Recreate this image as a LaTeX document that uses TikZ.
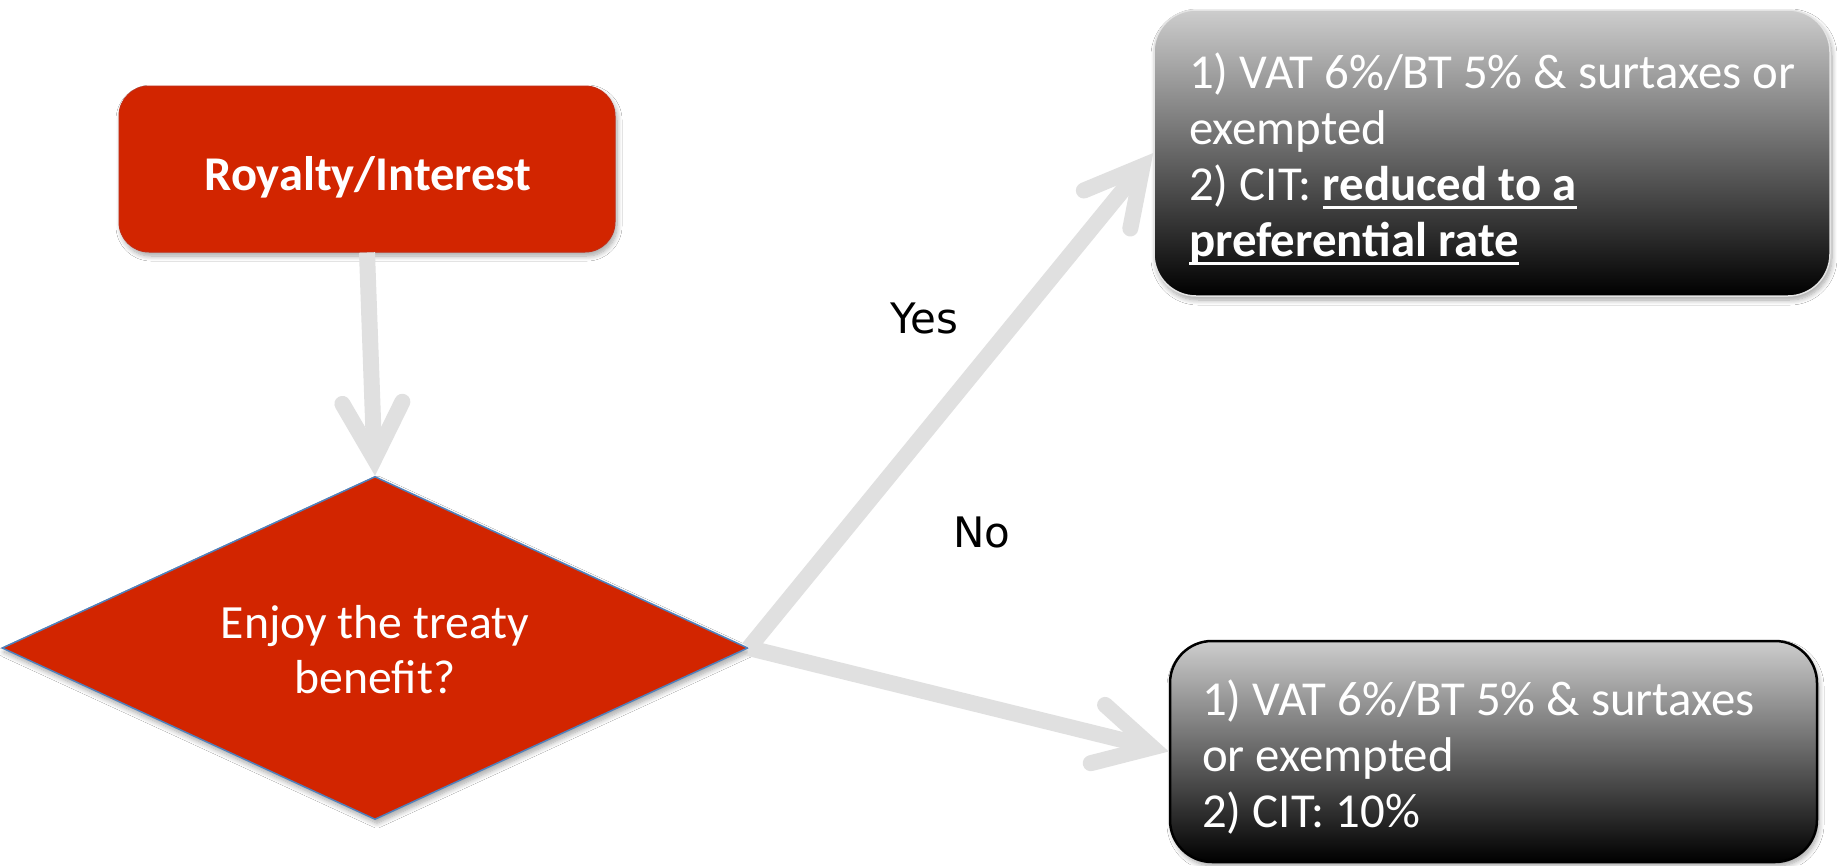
\documentclass[tikz,border=0pt]{standalone}
\usepackage{fontspec}
\newfontfamily\calibri{Carlito}
\newfontfamily\lucida{DejaVu Sans}
\usetikzlibrary{arrows.meta,shapes.geometric,shadows.blur}

\definecolor{ored}{RGB}{210,37,0}
\definecolor{oredline}{RGB}{196,44,20}
\definecolor{agray}{RGB}{224,224,224}
\definecolor{dblue}{RGB}{79,129,189}
\definecolor{boxtop}{RGB}{205,205,205}
\definecolor{boxmid}{RGB}{120,120,120}
\definecolor{boxline}{RGB}{228,228,228}

% left-aligned and centred stacks of lines, baseline on the first line
\newcommand\leftlines[1]{\vtop{\halign{##\hfil\cr#1\crcr}}}
\newcommand\ctrlines[1]{\vtop{\halign{\hfil##\hfil\cr#1\crcr}}}
% underline with a rule scaled to the large text
\newcommand\undl[1]{\leavevmode\setbox0\hbox{#1}\rlap{\rule[-9pt]{\wd0}{2.6pt}}\box0}

\tikzset{
  softshadow/.style={blur shadow={shadow xshift=2pt, shadow yshift=-4pt,
      shadow blur radius=5pt, shadow blur steps=8, shadow opacity=35}},
  redbox/.style={rectangle, rounded corners=30pt, fill=ored, draw=oredline,
      line width=1pt, minimum width=496pt, minimum height=166pt, softshadow},
  decision/.style={diamond, fill=ored, draw=dblue, line width=1.5pt,
      minimum width=746pt, minimum height=343pt, shape aspect=2.17,
      inner sep=0pt, softshadow},
  darkbox/.style={rectangle, rounded corners=42pt, top color=boxtop,
      middle color=boxmid, bottom color=black, softshadow},
  boxtext/.style={text=white, inner sep=0pt,
      font=\calibri\fontsize{48.8pt}{56pt}\selectfont},
  answer/.style={text=black, inner sep=0pt,
      font=\lucida\fontsize{42pt}{50pt}\selectfont},
  flow/.style={draw=agray, line width=16pt,
      preaction={draw=black, draw opacity=0.12,
        transform canvas={shift={(1.5pt,-2pt)}}},
      -{Straight Barb[length=56pt, width=60pt, line cap=round, line join=miter]}},
}

\begin{document}
\begin{tikzpicture}[x=1pt, y=-1pt]
\useasboundingbox (0,0) rectangle (1837,865);
\fill[white] (0,0) rectangle (1837,865);

% start box
\node[redbox] (roy) at (367,169) {};
\node[boxtext, anchor=base, font=\calibri\bfseries\fontsize{48.5pt}{56pt}\selectfont]
  (roytext) at (368,190) {Royalty/Interest};

% decision
\node[decision] (treaty) at (375,648) {};
\node[boxtext, anchor=base, font=\calibri\fontsize{47.7pt}{55pt}\selectfont]
  (treatytext) at (375,638) {\ctrlines{Enjoy the treaty\cr benefit?}};

% outcome boxes
\node[darkbox, draw=boxline, line width=1.5pt, minimum width=676pt,
  minimum height=286pt] (yesbox) at (1492,153) {};
\node[boxtext, anchor=base west] (yestext) at (1189,88)
  {\leftlines{1) VAT 6\%/BT 5\% \& surtaxes or\cr
   exempted\cr
   2) CIT: \undl{\bfseries reduced to a}\cr
   \undl{\bfseries preferential rate}}};

\node[darkbox, draw=black, line width=2.5pt, minimum width=647pt,
  minimum height=221pt] (nobox) at (1493.5,751.5) {};
\node[boxtext, anchor=base west] (notext) at (1202,715)
  {\leftlines{1) VAT 6\%/BT 5\% \& surtaxes\cr
   or exempted\cr
   2) CIT: 10\%}};

% connectors
\draw[flow] (roy.south) -- (treaty.north);
\draw[flow] (treaty.east) -- (yesbox.west);
\draw[flow] (treaty.east) -- (nobox.west);

% branch labels
\node[answer, anchor=base west] (yes) at (890,333) {Yes};
\node[answer, anchor=base west] (no) at (953,547) {No};
\end{tikzpicture}
\end{document}
